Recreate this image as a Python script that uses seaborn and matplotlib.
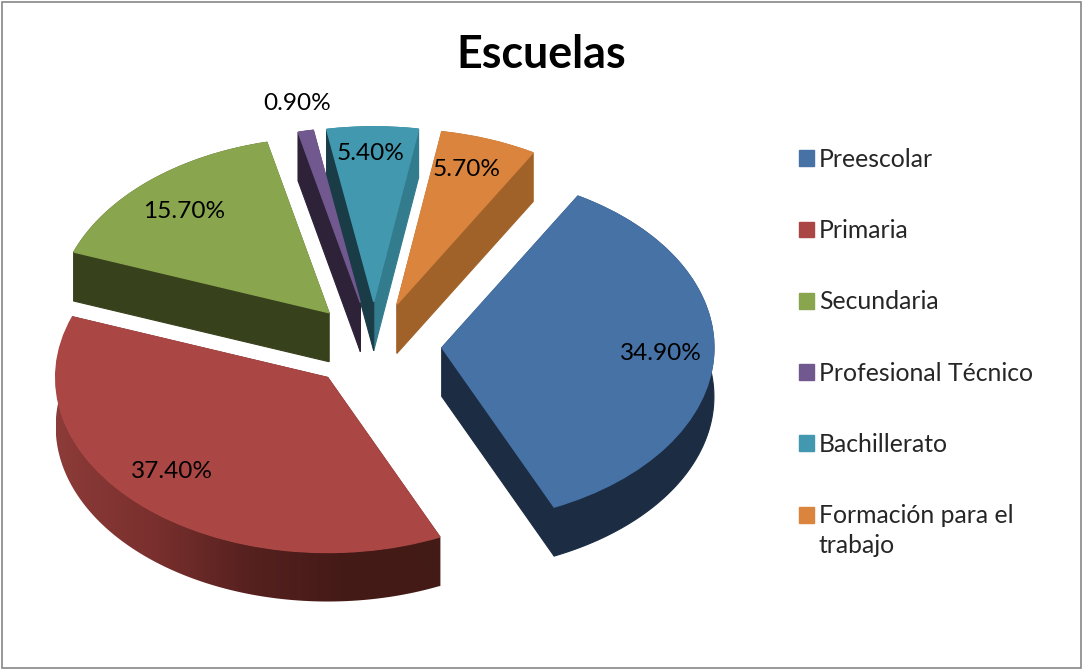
"""Escuelas: exploded pie with a drawn-on depth, as in the spreadsheet original."""

import matplotlib

matplotlib.use("Agg")
import matplotlib.pyplot as plt
import numpy as np
import seaborn as sns
from matplotlib.colors import LinearSegmentedColormap
from matplotlib.patches import Polygon, Rectangle

TITLE = "Escuelas"
LEVELS = ["Preescolar", "Primaria", "Secundaria", "Profesional Técnico", "Bachillerato", "Formación para el\ntrabajo"]
SHARES = [34.9, 37.4, 15.7, 0.9, 5.4, 5.7]

TOP_COLORS = ["#4672a6", "#aa4643", "#89a54e", "#71588f", "#4198af", "#db843d"]
RIM_COLORS = ["#1b2c43", "#8a3a37", "#37411c", "#2d2238", "#337c8e", "#a06229"]
# wall on the low-angle side and on the high-angle side of each wedge
WALL_A = ["#1b2c43", "#421a16", "#37411c", "#2d2238", "#337c8e", "#a06229"]
WALL_B = ["#1b2c43", "#421a16", "#37411c", "#2d2238", "#1a3c47", "#a06229"]
RED_SIDE = ["#8c3b38", "#7a302e", "#56211f", "#441a17", "#441a17"]

# where the percentage labels sit, in picture pixels
LABEL_XY = [(661, 354), (172, 471), (184, 211), (297, 103), (371, 153), (467, 169)]

W, H = 1082, 669
CX, CY, RX, RY = 374, 345.5, 272, 175
DEPTH = 49 / RY


def px(x, y):
    return (x - CX) / RX, (CY - y) / RY


def arc(wedge, drop=0.0):
    t = np.radians(np.linspace(wedge.theta1, wedge.theta2, 120))
    cx, cy = wedge.center
    return np.column_stack([cx + np.cos(t), cy + np.sin(t) - drop])


def wall(wedge, theta, color):
    cx, cy = wedge.center
    end = np.array([cx + np.cos(np.radians(theta)), cy + np.sin(np.radians(theta))])
    pts = [(cx, cy), end, end - [0, DEPTH], (cx, cy - DEPTH)]
    ax.add_patch(Polygon(pts, closed=True, fc=color, ec=color, lw=0.8, zorder=0.7))


sns.set_theme(style="white")
plt.rcParams["font.family"] = ["Lato", "DejaVu Sans"]

fig = plt.figure(figsize=(W / 100, H / 100), dpi=100)
ax = fig.add_axes([0, 0, 1, 1])

wedges, _, pct = ax.pie(
    SHARES,
    colors=TOP_COLORS,
    explode=[0.25] * len(SHARES),
    startangle=60,
    counterclock=False,
    radius=1,
    autopct="%.2f%%",
    pctdistance=0.8,
    textprops={"fontsize": 17.6, "color": "black"},
)

for i, w in enumerate(wedges):
    # same-colour outline so the side strokes do not peek out around the top face
    w.set_edgecolor(TOP_COLORS[i])
    w.set_linewidth(1.0)
    wall(w, w.theta1, WALL_A[i])
    wall(w, w.theta2, WALL_B[i])
    rim = np.vstack([arc(w), arc(w, DEPTH)[::-1]])
    poly = Polygon(rim, closed=True, fc=RIM_COLORS[i], ec=RIM_COLORS[i], lw=0.8, zorder=0.6)
    ax.add_patch(poly)
    if i == 1:
        poly.set_visible(False)
        clip = Polygon(rim, closed=True, transform=ax.transData)
        cmap = LinearSegmentedColormap.from_list("red_side", RED_SIDE)
        im = ax.imshow(
            np.linspace(0, 1, 256)[None, :],
            cmap=cmap,
            aspect="auto",
            extent=(rim[:, 0].min(), rim[:, 0].max(), rim[:, 1].min(), rim[:, 1].max()),
            zorder=0.6,
        )
        im.set_clip_path(clip)

for label, xy in zip(pct, LABEL_XY):
    label.set_position(px(*xy))

ax.set_aspect("auto")
ax.set_xlim(-CX / RX, (W - CX) / RX)
ax.set_ylim((CY - H) / RY, CY / RY)
ax.axis("off")

fig.text(541 / W, 1 - 55 / H, TITLE, ha="center", va="center", fontsize=32.3, fontweight="bold", color="black")

leg = ax.legend(
    wedges,
    LEVELS,
    loc="upper left",
    bbox_to_anchor=(799 / W, 1 - 148 / H),
    bbox_transform=fig.transFigure,
    frameon=False,
    fontsize=17.8,
    handlelength=0.6,
    handleheight=0.6,
    handletextpad=0.2,
    labelspacing=1.95,
    borderpad=0,
    borderaxespad=0,
)
for t in leg.get_texts():
    t.set_linespacing(1.36)
last = leg.get_patches()[-1]
last.set_y(last.get_y() + 11.5)

fig.add_artist(Rectangle((1.5 / W, 1.5 / H), (W - 3) / W, (H - 3) / H, transform=fig.transFigure,
                         fill=False, ec="#868686", lw=1.2))

fig.savefig("out.png", dpi=100)
